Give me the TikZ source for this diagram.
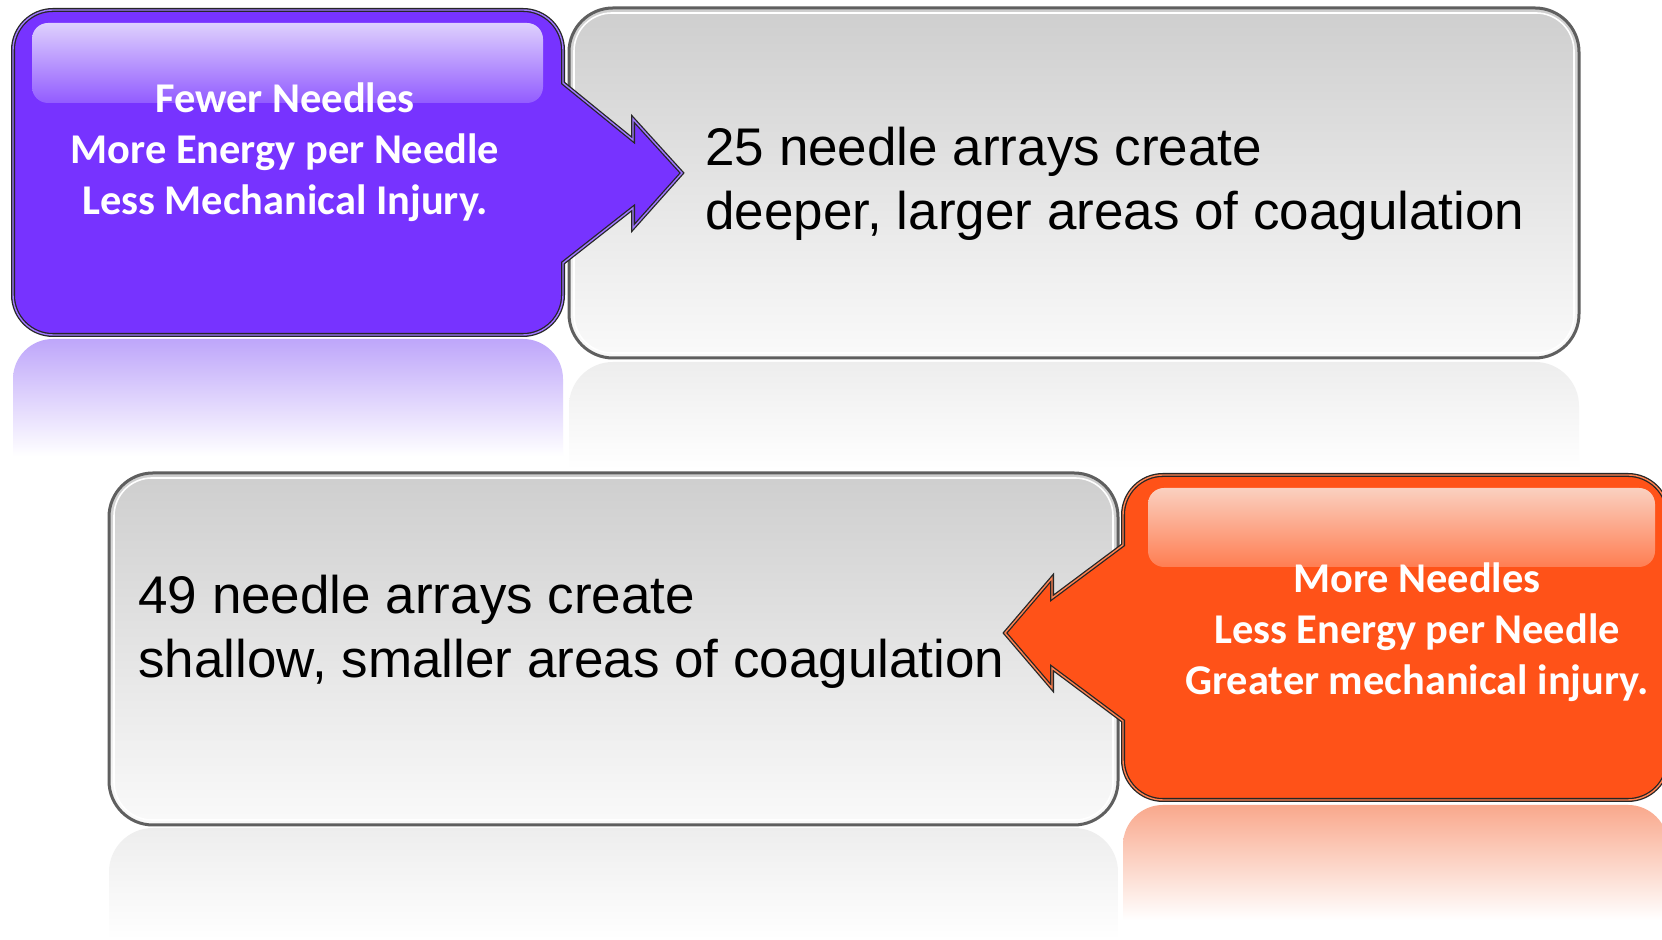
\documentclass[tikz,border=0pt]{standalone}
\usepackage{fontspec}
\setmainfont{Liberation Sans}
\newfontfamily\calibri{Carlito}
\usetikzlibrary{positioning}
\definecolor{violetfill}{RGB}{119, 51, 255}
\definecolor{violetgloss}{RGB}{222, 208, 253}
\definecolor{violetglow}{RGB}{190, 166, 250}
\definecolor{violetrim}{RGB}{160, 120, 255}
\definecolor{orangefill}{RGB}{255, 82, 24}
\definecolor{orangegloss}{RGB}{250, 208, 192}
\definecolor{orangeglow}{RGB}{249, 168, 140}
\definecolor{orangerim}{RGB}{255, 130, 80}
\definecolor{boxtop}{RGB}{206, 206, 206}
\definecolor{boxbottom}{RGB}{250, 250, 250}
\definecolor{boxrim}{RGB}{95, 95, 95}
\tikzset{
  graybox/.style={top color=boxtop, bottom color=boxbottom, draw=boxrim, line width=1.5pt, rounded corners=22pt},
  bevel/.style={draw=white, line width=0.8pt, rounded corners=19pt},
  calloutline/.style={draw=black!85, line width=2pt},
  calloutrim/.style={line width=0.7pt},
  gloss/.style={rounded corners=8pt},
  bigtext/.style={font=\fontsize{26.5}{32}\selectfont, align=left, anchor=west, inner sep=0pt},
  whitetext/.style={font=\calibri\bfseries\fontsize{21.2}{25.5}\selectfont, text=white, align=center, inner sep=0pt}
}
% outlines of the two callouts (1 unit = 1 px of the reference)
\newcommand\violetpath{(563,677) [rounded corners=20pt] -- (563,605) -- (13,605) -- (13,930) -- (563,930) [sharp corners] -- (563,857) -- (633,800) -- (633,821) -- (682,767) -- (633,712) -- (633,732) -- cycle}
\newcommand\orangepath{(1123,219) [rounded corners=20pt] -- (1123,140) -- (1668,140) -- (1668,465) -- (1123,465) [sharp corners] -- (1123,395) -- (1052,342) -- (1052,362) -- (1005,307) -- (1052,252) -- (1052,272) -- cycle}

\begin{document}
\begin{tikzpicture}[x=0.5pt, y=0.5pt]
    \useasboundingbox (0,0) rectangle (1662,940);
    \fill[white] (0,0) rectangle (1662,940);

    % reflections
    \shade[top color=violetglow, bottom color=white] (13,484) [rounded corners=20pt] -- (13,601) -- (563,601) [sharp corners] -- (563,484) -- cycle;
    \shade[top color=black!7, bottom color=white] (569,470) [rounded corners=22pt] -- (569,578) -- (1579,578) [sharp corners] -- (1579,470) -- cycle;
    \shade[top color=black!7, bottom color=white] (109,0) [rounded corners=22pt] -- (109,112) -- (1118,112) [sharp corners] -- (1118,0) -- cycle;
    \shade[top color=orangeglow, bottom color=white] (1123,20) [rounded corners=20pt] -- (1123,135) -- (1668,135) [sharp corners] -- (1668,20) -- cycle;

    % top row
    \draw[graybox] (569,582) rectangle (1579,932);
    \draw[bevel] (574,587) rectangle (1574,927);
    \fill[violetfill] \violetpath;
    \shade[gloss, top color=violetgloss, bottom color=violetfill!80!white] (32,837) rectangle (543,917);
    \draw[calloutline] \violetpath;
    \draw[calloutrim, draw=violetrim] \violetpath;
    \node[bigtext] (deep) at (705,756) {25 needle arrays create\\deeper, larger areas of coagulation};
    \node[whitetext] (fewer) at (285,788) {Fewer Needles\\More Energy per Needle\\Less Mechanical Injury.};

    % bottom row
    \draw[graybox] (109,115) rectangle (1118,467);
    \draw[bevel] (114,120) rectangle (1113,462);
    \fill[orangefill] \orangepath;
    \shade[gloss, top color=orangegloss, bottom color=orangefill!75!white] (1148,373) rectangle (1655,452);
    \draw[calloutline] \orangepath;
    \draw[calloutrim, draw=orangerim] \orangepath;
    \node[bigtext] (shallow) at (138,308) {49 needle arrays create\\shallow, smaller areas of coagulation};
    \node[whitetext] (more) at (1417,308) {More Needles\\Less Energy per Needle\\Greater mechanical injury.};
\end{tikzpicture}
\end{document}
